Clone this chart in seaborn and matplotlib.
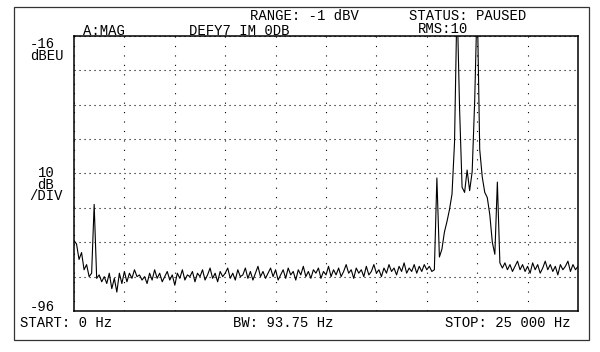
import numpy as np
import matplotlib
matplotlib.use("Agg")
import matplotlib.pyplot as plt
from matplotlib.patches import Rectangle
import seaborn as sns

# ---- data (dBEU, 125 Hz bins from 0 to 25 000 Hz) ----
levels_db = [
    -75.5, -76.5, -81.0, -79.0, -84.0, -82.5, -86.0, -85.0, -65.0, -86.5,
    -85.5, -87.5, -86.0, -88.0, -85.0, -89.5, -86.5, -90.5, -85.0, -88.0,
    -84.5, -87.5, -85.0, -86.5, -84.0, -86.0, -85.5, -87.0, -86.0, -88.0,
    -85.0, -87.0, -84.0, -86.5, -85.0, -87.5, -86.0, -84.5, -87.0, -85.5,
    -88.5, -85.0, -86.5, -84.0, -87.0, -85.5, -86.0, -84.5, -87.5, -85.0,
    -86.0, -84.0, -87.0, -85.5, -83.5, -86.5, -85.0, -87.5, -84.5, -86.0,
    -85.0, -83.5, -86.5, -85.0, -87.0, -84.0, -86.0, -85.5, -83.5, -86.5,
    -84.5, -87.0, -85.0, -83.0, -86.0, -84.5, -86.5, -85.0, -83.5, -86.0,
    -84.0, -87.0, -85.5, -84.0, -86.5, -83.5, -85.5, -84.5, -87.0, -84.0,
    -85.5, -83.0, -86.0, -84.5, -86.5, -84.0, -85.0, -83.5, -86.5, -84.5,
    -85.5, -83.0, -86.0, -84.0, -85.5, -83.5, -86.0, -84.5, -82.5, -85.0,
    -84.0, -86.5, -83.5, -85.0, -84.0, -86.0, -83.0, -85.5, -84.5, -82.5,
    -85.0, -84.0, -86.0, -83.5, -85.0, -82.5, -84.5, -83.5, -85.5, -83.0,
    -84.5, -82.0, -85.0, -83.5, -84.5, -82.5, -85.0, -83.0, -84.5, -82.5,
    -84.0, -83.0, -84.5, -84.0, -57.3, -80.3, -78.0, -73.0, -70.0, -66.5,
    -62.0, -47.0, -5.0, -37.0, -60.0, -61.5, -55.0, -61.0, -55.5, -35.0,
    -5.0, -49.0, -57.0, -61.5, -63.0, -68.0, -76.0, -79.5, -58.5, -82.0,
    -83.5, -82.0, -84.0, -82.5, -84.5, -83.0, -81.5, -84.0, -82.5, -84.5,
    -83.0, -85.0, -82.0, -84.0, -82.5, -85.0, -83.5, -81.5, -84.0, -82.5,
    -84.5, -83.0, -85.5, -82.5, -84.0, -83.0, -81.5, -84.5, -82.5, -84.0,
    -83.0,
]
freq_start_hz = 0
freq_stop_hz = 25000
freq_hz = np.linspace(freq_start_hz, freq_stop_hz, len(levels_db))

y_top_db = -16
y_bottom_db = -96
x_grid = np.linspace(freq_start_hz, freq_stop_hz, 11)
y_grid = np.arange(y_bottom_db, y_top_db + 1, 10)

header_texts = ["RANGE: -1 dBV", "STATUS: PAUSED", "A:MAG", "DEFY7 IM 0DB", "RMS:10"]
footer_texts = ["START: 0 Hz", "BW: 93.75 Hz", "STOP: 25 000 Hz"]
axis_texts = ["-16\ndBEU", "10\ndB\n/DIV", "-96"]

# ---- style ----
sns.set_style("white")
FONT = ["Liberation Mono", "DejaVu Sans Mono"]
plt.rcParams["font.family"] = FONT

W, H = 600, 352
fig = plt.figure(figsize=(W / 100, H / 100), dpi=100)
fig.patch.set_facecolor("white")

def fx(px):
    return px / W

def fy(py):
    return 1 - py / H

ax_l, ax_r, ax_t, ax_b = 74, 578, 36, 311
ax = fig.add_axes([fx(ax_l), fy(ax_b), (ax_r - ax_l) / W, (ax_b - ax_t) / H])

sns.lineplot(x=freq_hz, y=levels_db, ax=ax, color="black", linewidth=0.8,
             estimator=None, sort=False)

ax.set_xlim(freq_start_hz, freq_stop_hz)
ax.set_ylim(y_bottom_db, y_top_db)
ax.set_xticks(x_grid)
ax.set_yticks(y_grid)
ax.tick_params(length=0, labelbottom=False, labelleft=False)
ax.set_xlabel("")
ax.set_ylabel("")
ax.yaxis.grid(True, color="black", linewidth=0.8, linestyle=(0, (1, 3.5)))
ax.xaxis.grid(True, color="black", linewidth=0.8, linestyle=(0, (1, 7.5)))
for s in ax.spines.values():
    s.set_visible(True)
    s.set_color("black")
    s.set_linewidth(1.1)

# outer frame
fig.patches.append(Rectangle((fx(14), fy(340)), (589 - 14) / W, (340 - 7) / H,
                             transform=fig.transFigure, fill=False,
                             edgecolor="#333333", linewidth=0.9))

fs = 10
def label(px, py, s, ha="left", va="center", **kw):
    fig.text(fx(px), fy(py), s, ha=ha, va=va, fontsize=fs,
             family=FONT, color="black", **kw)

label(250, 16, header_texts[0])
label(409, 16, header_texts[1])
label(83, 31, header_texts[2])
label(189, 31, header_texts[3])
label(418, 29, header_texts[4])

label(30, 37, axis_texts[0], va="top", linespacing=0.78)
label(46, 166, axis_texts[1], ha="center", va="top", multialignment="center",
      linespacing=0.78)
label(30, 307, axis_texts[2])

label(20, 323, footer_texts[0])
label(233, 323, footer_texts[1])
label(445, 323, footer_texts[2])

fig.savefig("out.png", dpi=100, facecolor="white")
